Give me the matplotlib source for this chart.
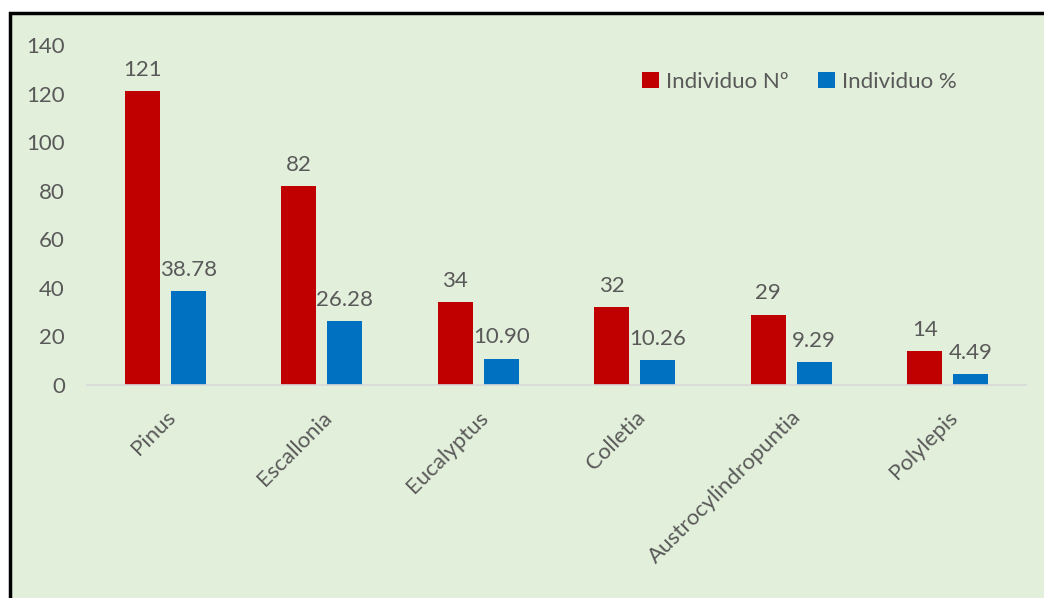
import matplotlib.pyplot as plt
from matplotlib.patches import Rectangle
import numpy as np

plt.rcParams['font.family'] = ['Lato', 'DejaVu Sans']

generos = ["Pinus", "Escallonia", "Eucalyptus", "Colletia",
           "Austrocylindropuntia", "Polylepis"]
individuo_n = [121, 82, 34, 32, 29, 14]
individuo_pct = [38.78, 26.28, 10.90, 10.26, 9.29, 4.49]
yticks = [0, 20, 40, 60, 80, 100, 120, 140]

rojo = "#C00000"
azul = "#0070C0"
fondo = "#E2EFDA"
gris = "#595959"

fig = plt.figure(figsize=(10.44, 5.98), dpi=100)
fig.patch.set_facecolor("white")

# panel verde con marco negro (arriba e izquierda)
marco = Rectangle((10 / 1044, -0.05), 1.1, (598 - 13) / 598 + 0.05,
                  transform=fig.transFigure, facecolor=fondo,
                  edgecolor="black", linewidth=2.5, zorder=-1)
fig.patches.append(marco)

ax = fig.add_axes([87 / 1044, 1 - 385 / 598, (1026 - 87) / 1044, (385 - 45) / 598])
ax.set_facecolor("none")

x = np.arange(len(generos))
ancho = 0.224
sep = 0.147
b1 = ax.bar(x - sep, individuo_n, ancho, color=rojo, label="Individuo Nº", zorder=2)
b2 = ax.bar(x + sep, individuo_pct, ancho, color=azul, label="Individuo %", zorder=2)

ax.bar_label(b1, labels=[f"{v}" for v in individuo_n], padding=8,
             fontsize=16, color=gris)
ax.bar_label(b2, labels=[f"{v:.2f}" for v in individuo_pct], padding=8,
             fontsize=16, color=gris)

ax.set_xlim(-0.5, len(generos) - 0.5)
ax.set_ylim(0, 140)
ax.set_yticks(yticks)
ax.set_xticks(x)
ax.set_xticklabels(generos, rotation=45, ha="right", va="top",
                   rotation_mode="anchor")
ax.tick_params(axis="both", length=0, labelsize=16, colors=gris)
ax.tick_params(axis="y", pad=16)
ax.tick_params(axis="x", pad=16)

for lado in ["top", "right", "left"]:
    ax.spines[lado].set_visible(False)
ax.spines["bottom"].set_color("#D9D9D9")
ax.spines["bottom"].set_linewidth(1.2)

ax.legend(loc="upper right", bbox_to_anchor=(0.948, 0.98), ncol=2,
          frameon=False, fontsize=16, labelcolor=gris,
          handlelength=0.75, handleheight=0.75, handletextpad=0.35,
          columnspacing=1.3)

fig.savefig("out.png", dpi=100)
